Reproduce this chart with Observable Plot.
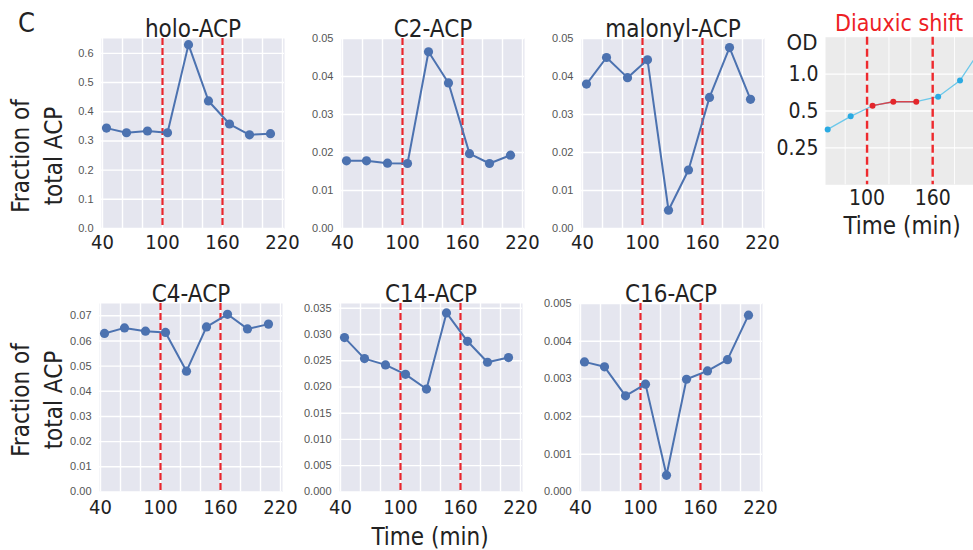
<!DOCTYPE html>
<html>
<head>
<meta charset="utf-8">
<script src="https://cdn.jsdelivr.net/npm/d3@7"></script>
<script src="https://cdn.jsdelivr.net/npm/@observablehq/plot@0.6"></script>
<style>
  html, body { margin: 0; padding: 0; background: #fff; overflow: hidden; }
  #root { position: relative; width: 973px; height: 550px; overflow: hidden; background: #fff; }
  #root svg { position: absolute; max-width: none; }
</style>
</head>
<body>
<div id="root"></div>
<script>
// ---------- data ----------
const times = [44, 64, 85, 105, 126, 146, 167, 187, 208];
const holoACP    = [0.344, 0.328, 0.334, 0.328, 0.630, 0.437, 0.358, 0.321, 0.325];
const c2ACP      = [0.0178, 0.0178, 0.0172, 0.0171, 0.0465, 0.0383, 0.0197, 0.0171, 0.0193];
const malonylACP = [0.0380, 0.0450, 0.0397, 0.0444, 0.0048, 0.0154, 0.0345, 0.0476, 0.0340];
const c4ACP      = [0.0630, 0.0652, 0.0639, 0.0634, 0.0480, 0.0656, 0.0706, 0.0648, 0.0667];
const c14ACP     = [0.0294, 0.0254, 0.0242, 0.0224, 0.0196, 0.0341, 0.0287, 0.0247, 0.0256];
const c16ACP     = [0.00345, 0.00332, 0.00255, 0.00286, 0.00044, 0.00299, 0.00321, 0.00351, 0.00469];

const shiftTimes = [100, 160];
const xTicks = [40, 100, 160, 220];
const xGrid = [40, 60, 80, 100, 120, 140, 160, 180, 200, 220];

const holoTicks = [0, 0.1, 0.2, 0.3, 0.4, 0.5, 0.6];
const c2Ticks = [0, 0.01, 0.02, 0.03, 0.04, 0.05];
const c4Ticks = [0, 0.01, 0.02, 0.03, 0.04, 0.05, 0.06, 0.07];
const c14Ticks = [0, 0.005, 0.01, 0.015, 0.02, 0.025, 0.03, 0.035];
const c16Ticks = [0, 0.001, 0.002, 0.003, 0.004, 0.005];

const odTimes  = [64, 85, 105, 124, 145, 165, 185, 205];
const odValues = [0.354, 0.452, 0.552, 0.595, 0.595, 0.654, 0.887, 1.65];
const odPhase  = ["pre", "pre", "shift", "shift", "shift", "post", "post", "post"];
const odYTicks = [0.25, 0.5, 1.0];
const odYLabels = ["0.25", "0.5", "1.0"];
const odXTicks = [100, 160];
const odGrid = [80, 100, 120, 140, 160, 180, 200, 220];

// ---------- style ----------
const FONT = '"DejaVu Sans Condensed", "DejaVu Sans", sans-serif';
const SMALL = '"Liberation Sans", Arial, sans-serif';
const root = document.getElementById("root");

function acpPanel({title, values, yMax, yTicks, fmt, left, top, ph, titleDy, xPad}) {
  const data = times.map((t, i) => ({t, v: values[i]}));
  const ml = 62, mr = 22, mt = 38, mb = 34, pw = 183;
  const svg = Plot.plot({
    width: ml + pw + mr, height: mt + ph + mb,
    marginLeft: ml, marginRight: mr, marginTop: mt, marginBottom: mb,
    style: {background: "none", fontFamily: FONT, overflow: "visible"},
    x: {domain: [39, 222], label: null},
    y: {domain: [0, yMax], label: null},
    marks: [
      Plot.frame({fill: "#e5e6ef", stroke: null}),
      Plot.gridX(xGrid, {stroke: "#fff", strokeOpacity: 1, strokeWidth: 1.4}),
      Plot.gridY(yTicks, {stroke: "#fff", strokeOpacity: 1, strokeWidth: 1.4}),
      Plot.ruleX(shiftTimes, {stroke: "#e8262d", strokeWidth: 2.2, strokeDasharray: "7,3"}),
      Plot.line(data, {x: "t", y: "v", stroke: "#4c72b0", strokeWidth: 2}),
      Plot.dot(data, {x: "t", y: "v", fill: "#4c72b0", r: 4.6}),
      Plot.axisX(xTicks, {tickSize: 0, tickPadding: xPad, fontSize: 20, fontFamily: FONT, fill: "#222", label: null}),
      Plot.axisY(yTicks, {tickSize: 0, tickPadding: 8, fontSize: 11, fontFamily: SMALL, fill: "#555", tickFormat: fmt, label: null}),
      Plot.text([title], {text: d => d, frameAnchor: "top", lineAnchor: "bottom", dy: titleDy, fontSize: 24, fontFamily: FONT, fill: "#222"})
    ]
  });
  svg.style.left = (left - ml) + "px";
  svg.style.top = (top - mt) + "px";
  root.appendChild(svg);
}

const f1 = d3.format(".1f"), f2 = d3.format(".2f"), f3 = d3.format(".3f");

acpPanel({title: "holo-ACP", values: holoACP, yMax: 0.651, yTicks: holoTicks, fmt: f1, left: 101, top: 37.7, ph: 190, titleDy: -2, xPad: 6});
acpPanel({title: "C2-ACP", values: c2ACP, yMax: 0.05, yTicks: c2Ticks, fmt: f2, left: 341, top: 37.7, ph: 190, titleDy: -2, xPad: 6});
acpPanel({title: "malonyl-ACP", values: malonylACP, yMax: 0.05, yTicks: c2Ticks, fmt: f2, left: 581, top: 37.7, ph: 190, titleDy: -2, xPad: 6});
acpPanel({title: "C4-ACP", values: c4ACP, yMax: 0.0749, yTicks: c4Ticks, fmt: f2, left: 99, top: 303.3, ph: 188.4, titleDy: -1.5, xPad: 8});
acpPanel({title: "C14-ACP", values: c14ACP, yMax: 0.0359, yTicks: c14Ticks, fmt: f3, left: 339, top: 303.3, ph: 188.4, titleDy: -1.5, xPad: 8});
acpPanel({title: "C16-ACP", values: c16ACP, yMax: 0.005, yTicks: c16Ticks, fmt: f3, left: 579, top: 303.3, ph: 188.4, titleDy: -1.5, xPad: 8});

// ---------- OD panel ----------
(function () {
  const od = odTimes.map((t, i) => ({t, v: odValues[i], phase: odPhase[i]}));
  const shift = od.filter(d => d.phase === "shift");
  const other = od.filter(d => d.phase !== "shift");
  const yTickRows = odYTicks.map((v, i) => ({v, label: odYLabels[i]}));
  const ml = 60, mr = 20, mt = 36.7, mb = 40, pw = 175, ph = 147.6;
  const svg = Plot.plot({
    width: ml + pw + mr, height: mt + ph + mb,
    marginLeft: ml, marginRight: mr, marginTop: mt, marginBottom: mb,
    style: {background: "none", fontFamily: FONT, overflow: "visible"},
    x: {domain: [62, 222], label: null},
    y: {type: "log", domain: [0.125, 2], label: null, axis: null},
    marks: [
      Plot.frame({fill: "#ebebeb", stroke: null}),
      Plot.gridX(odGrid, {stroke: "#fff", strokeOpacity: 1, strokeWidth: 0.9}),
      Plot.ruleY(yTickRows, {y: "v", stroke: "#fff", strokeWidth: 1.4}),
      Plot.line(od, {x: "t", y: "v", stroke: "#6cc8ea", strokeWidth: 1.3}),
      Plot.line(shift, {x: "t", y: "v", stroke: "#d9434a", strokeWidth: 1.3}),
      Plot.dot(other, {x: "t", y: "v", fill: "#2aaae2", r: 3}),
      Plot.dot(shift, {x: "t", y: "v", fill: "#e3262b", r: 3}),
      Plot.ruleX(shiftTimes, {stroke: "#ee2a2e", strokeWidth: 2.4, strokeDasharray: "8,4"}),
      Plot.axisX(odXTicks, {tickSize: 0, tickPadding: 5, fontSize: 21, fontFamily: FONT, fill: "#222", label: null}),
      Plot.text(yTickRows, {y: "v", text: "label", frameAnchor: "left", textAnchor: "end", dx: -7,
        fontSize: 21, fontFamily: FONT, fill: "#222"})
    ]
  });
  svg.style.left = (825 - ml) + "px";
  svg.style.top = (36.7 - mt) + "px";
  root.appendChild(svg);
})();

// ---------- annotations ----------
(function () {
  const ns = "http://www.w3.org/2000/svg";
  const ov = document.createElementNS(ns, "svg");
  ov.setAttribute("width", 973); ov.setAttribute("height", 550);
  ov.style.left = "0px"; ov.style.top = "0px"; ov.style.pointerEvents = "none";
  ov.style.fontFamily = FONT;
  const labels = [
    {t: "C", x: 18, y: 32, size: 27, anchor: "start"},
    {t: "Fraction of", x: 29, y: 156, size: 24, rot: true},
    {t: "total ACP", x: 62, y: 156, size: 24, rot: true},
    {t: "Fraction of", x: 29, y: 400, size: 24, rot: true},
    {t: "total ACP", x: 62, y: 400, size: 24, rot: true},
    {t: "Time (min)", x: 430, y: 545, size: 24},
    {t: "Time (min)", x: 902, y: 234, size: 24},
    {t: "Diauxic shift", x: 899, y: 31, size: 23, fill: "#ed2024"},
    {t: "OD", x: 802, y: 50, size: 22}
  ];
  for (const l of labels) {
    const el = document.createElementNS(ns, "text");
    el.textContent = l.t;
    el.setAttribute("x", l.x); el.setAttribute("y", l.y);
    el.setAttribute("font-size", l.size);
    el.setAttribute("fill", l.fill || "#222");
    el.setAttribute("text-anchor", l.anchor || "middle");
    if (l.rot) el.setAttribute("transform", `rotate(-90 ${l.x} ${l.y})`);
    ov.appendChild(el);
  }
  root.appendChild(ov);
})();
</script>
</body>
</html>
